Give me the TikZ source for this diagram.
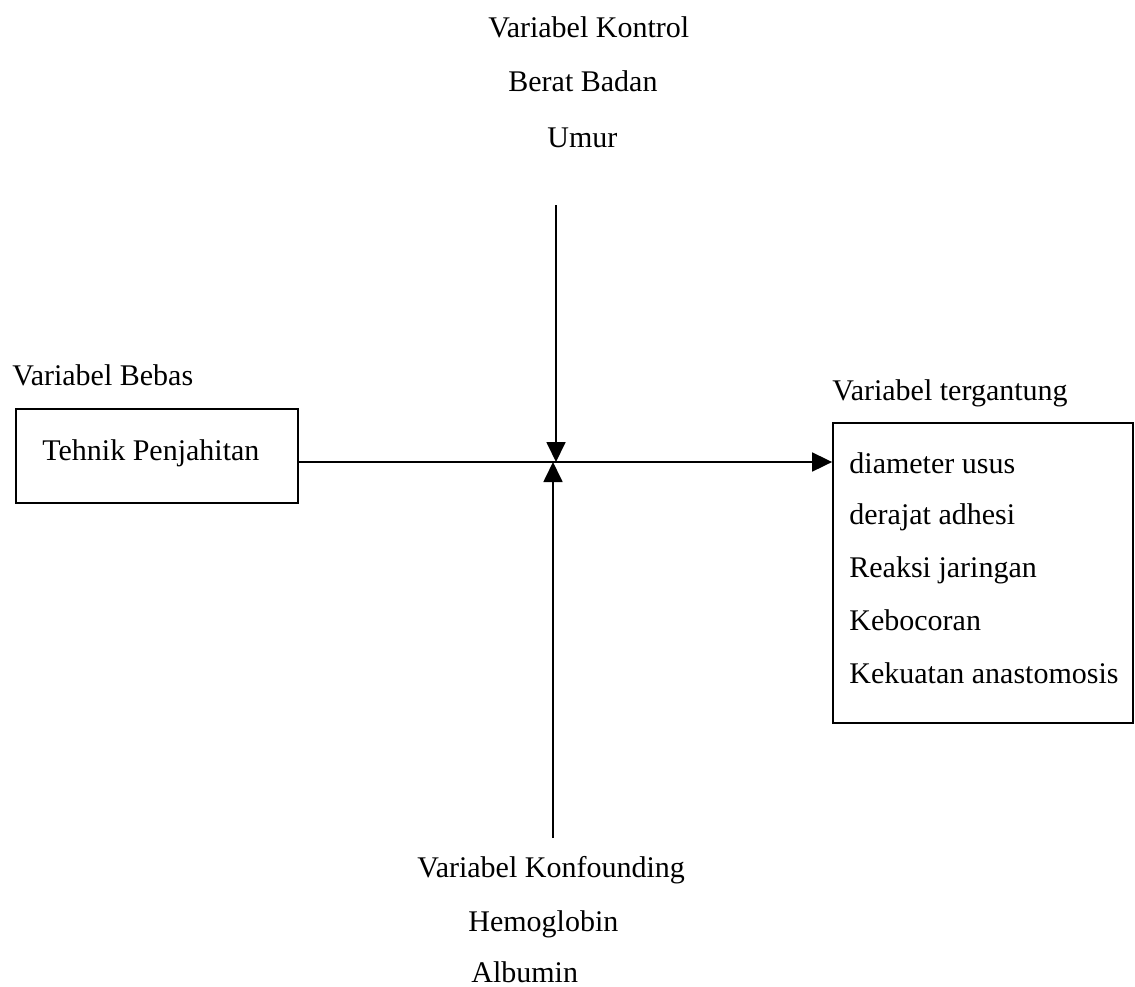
\documentclass[tikz,border=0pt]{standalone}
\usepackage{fontspec}
\setmainfont{Liberation Serif}
\usetikzlibrary{arrows.meta}
\begin{document}
\begin{tikzpicture}[x=0.5pt,y=-0.5pt,
  every node/.style={font=\fontsize{15}{18}\selectfont, inner sep=0pt},
  txt/.style={anchor=base west},
  boxed/.style={draw, line width=0.9pt},
  conn/.style={line width=0.9pt},
  tip/.style={-{Triangle[length=10pt,width=9.5pt]}}
]
\useasboundingbox (0,0) rectangle (1135,986);
% top labels
\node[txt] (kontrol) at (488,37) {Variabel Kontrol};
\node[txt] (berat) at (508,91) {Berat Badan};
\node[txt] (umur) at (547,147) {Umur};
% bottom labels
\node[txt] (konf) at (417,877) {Variabel Konfounding};
\node[txt] (hb) at (468,931) {Hemoglobin};
\node[txt] (alb) at (471,982) {Albumin};
% left
\node[txt] (bebas) at (12,385) {Variabel Bebas};
\node[boxed, minimum width=141pt, minimum height=47pt] (lbox) at (157,456) {};
\node[txt] (tehnik) at (42,460) {Tehnik Penjahitan};
% right
\node[txt] (terg) at (832,400) {Variabel tergantung};
\node[boxed, minimum width=150pt, minimum height=150pt] (rbox) at (983,573) {};
\node[txt] (d1) at (849,473) {diameter usus};
\node[txt] (d2) at (849,524) {derajat adhesi};
\node[txt] (d3) at (849,577) {Reaksi jaringan};
\node[txt] (d4) at (849,630) {Kebocoran};
\node[txt] (d5) at (849,683) {Kekuatan anastomosis};
% connectors
\coordinate (cross) at (556,462);
\coordinate (topend) at (556,205);
\coordinate (botend) at (553,838);
\draw[conn, tip] (lbox.east |- cross) -- (cross -| rbox.west);
\draw[conn, tip] (topend) -- (topend |- cross);
\draw[conn, tip] (botend) -- (botend |- cross);
\end{tikzpicture}
\end{document}
